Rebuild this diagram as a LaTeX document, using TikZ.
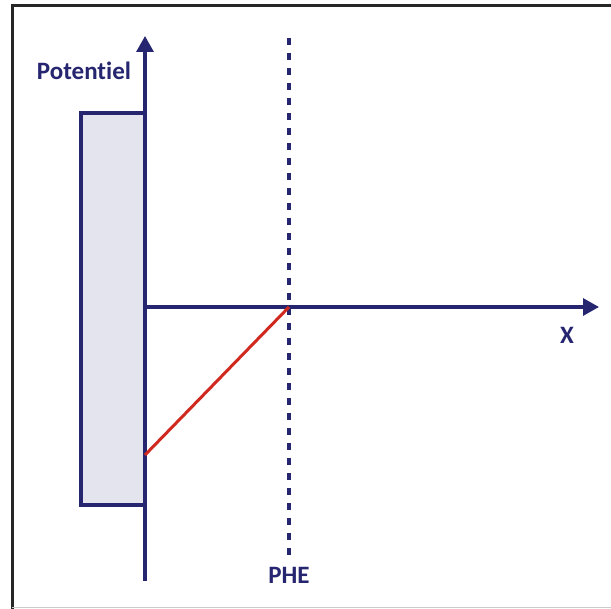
\documentclass[tikz,border=0pt]{standalone}
\usepackage{fontspec}
\setmainfont{Carlito}[Ligatures={NoCommon}]
\usepackage{tikz}
\usetikzlibrary{positioning,arrows.meta,calc}
\definecolor{Navy}{HTML}{26256F}
\definecolor{PlateFill}{HTML}{E4E4EE}
\definecolor{LineRed}{HTML}{D02A20}

\begin{document}
\begin{tikzpicture}[x=1pt, y=-1pt,
  axis/.style={draw=Navy, line width=3.2pt, -{Triangle[length=16pt, width=17pt]}},
  lbl/.style={text=Navy, font=\fontsize{25}{29}\selectfont\bfseries, inner sep=0pt},
  plate/.style={draw=Navy, line width=3.2pt, fill=PlateFill, minimum width=64pt, minimum height=392pt, inner sep=0pt}]
\useasboundingbox (0,0) rectangle (611,609);
% frame
\draw[line width=3pt, black!85] (611,5.5) -- (12,5.5) -- (12,609);
\draw[line width=1pt, black!20] (12,607.5) -- (611,607.5);
% plate and axes
\node[plate] (plate) at (113,309) {};
\coordinate (o) at (145,307);
\coordinate (ytop) at (145,36);
\coordinate (ybot) at (145,581);
\coordinate (xend) at (599,307);
\coordinate (phetop) at (289,38);
\coordinate (phebot) at (289,556);
\coordinate (h) at (289,307);
\coordinate (v0) at (145,455);
\draw[axis] (ybot) -- (ytop);
\draw[axis] (o) -- (xend);
\draw[Navy, line width=3.2pt, dash pattern=on 7pt off 8pt] (phetop) -- (phebot);
\draw[LineRed, line width=3pt] (v0) -- (h);
% labels
\node[lbl] (pot) at (84,71) {Potentiel};
\node[lbl] (xlbl) at (567,335) {X};
\node[lbl] (phe) at (289,575) {PHE};
\end{tikzpicture}
\end{document}
